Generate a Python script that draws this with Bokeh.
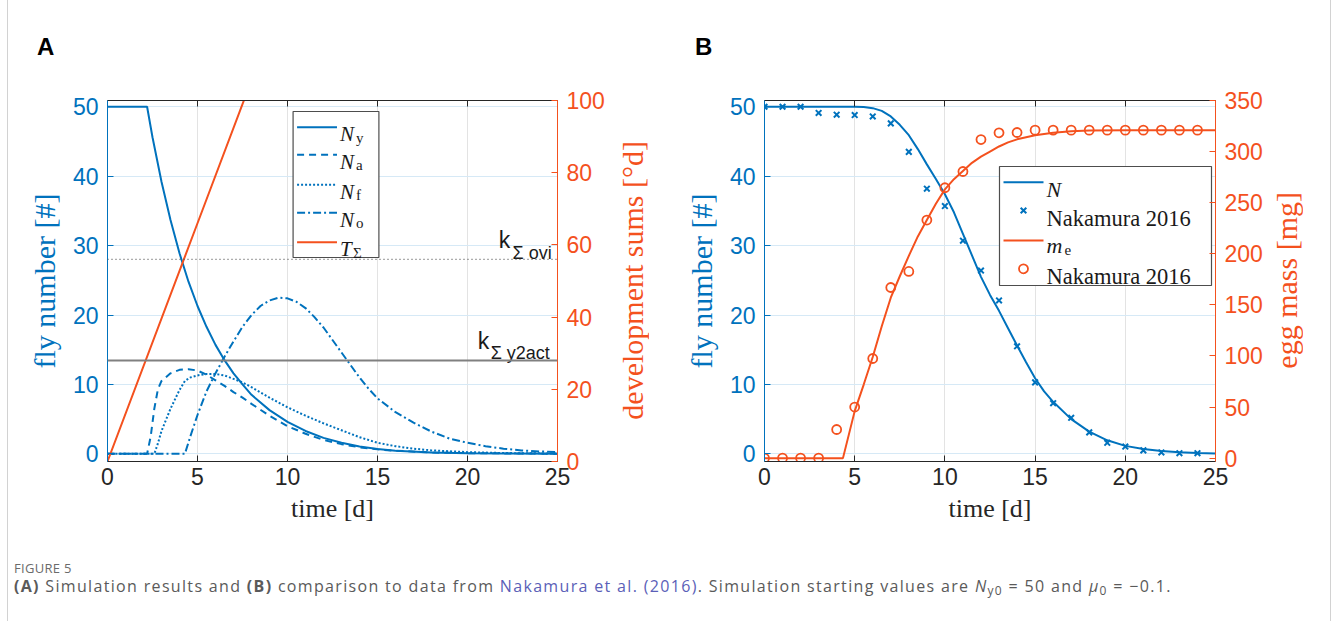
from bokeh.plotting import figure
from bokeh.models import Range1d, LinearAxis, Div, FixedTicker, Span
from bokeh.layouts import row, column
from bokeh.embed import file_html
from bokeh.resources import INLINE
from bokeh.core.properties import value

BLUE = "#0072BD"
ORANGE = "#F4511E"
DARK = "#262626"
GRID_X = "#e3e3e3"
GRID_Y = "#d6e9f6"
SANS = "Liberation Sans"
SERIF = "Liberation Serif"

# ---------------- Panel A: simulated classes ----------------
t_young = [0, 2.2, 2.5, 3, 3.5, 4, 4.5, 5, 5.5, 6, 6.5, 7, 7.5, 8, 9, 10, 11, 12, 13, 14, 15, 16, 18, 20, 22, 25]
n_young = [50, 50, 45.6, 39.2, 33.7, 28.9, 24.8, 21.3, 18.3, 15.7, 13.5, 11.6, 10.0, 8.5, 6.3, 4.6, 3.3, 2.3,
           1.6, 1.05, 0.7, 0.45, 0.2, 0.1, 0.05, 0.02]

t_adult = [0, 2.2, 2.4, 2.6, 2.8, 3.0, 3.5, 4.0, 4.5, 5.0, 5.5, 6, 6.5, 7, 7.5, 8, 9, 10, 11, 12, 13, 14, 15,
           16, 18, 20, 25]
n_adult = [0, 0, 2.5, 6.5, 9.3, 10.5, 11.6, 12.1, 12.2, 12.0, 11.4, 10.6, 9.8, 8.9, 8.1, 7.2, 5.5, 4.0, 2.9,
           2.0, 1.4, 0.95, 0.65, 0.45, 0.2, 0.1, 0.02]

t_fem = [0, 2.6, 2.8, 3.0, 3.5, 4.0, 4.3, 4.6, 5.0, 5.5, 6.0, 6.5, 7, 7.5, 8, 9, 10, 11, 12, 13, 14, 15, 16,
         17, 18, 20, 22, 25]
n_fem = [0, 0, 1.5, 3.3, 6.5, 9.2, 10.5, 11.0, 11.3, 11.5, 11.5, 11.3, 10.8, 10.3, 9.6, 8.1, 6.7, 5.5, 4.4,
         3.4, 2.4, 1.6, 1.1, 0.75, 0.5, 0.25, 0.12, 0.05]

t_ovi = [0, 4.3, 4.6, 5.0, 5.5, 6.0, 6.5, 7.0, 7.5, 8.0, 8.5, 9.0, 9.5, 10, 10.5, 11, 11.5, 12, 12.5, 13,
         13.5, 14, 14.5, 15, 16, 17, 18, 19, 20, 21, 22, 23, 24, 25]
n_ovi = [0, 0, 2.5, 5.6, 9.0, 11.6, 14.0, 16.2, 18.3, 20.0, 21.3, 22.1, 22.5, 22.4, 21.9, 21.0, 19.7, 18.2,
         16.4, 14.6, 12.8, 11.0, 9.4, 8.0, 6.0, 4.5, 3.2, 2.2, 1.6, 1.1, 0.75, 0.5, 0.35, 0.25]

t_dev = [0, 5, 10]
dev_sum = [0, 66, 132]

k_ovi = 56
k_y2act = 28

# ---------------- Panel B: model vs. Nakamura 2016 ----------------
t_days = list(range(25))
nak_flies = [50, 50, 50, 49.1, 48.85, 48.8, 48.6, 47.6, 43.5, 38.2, 35.7, 30.7, 26.4, 22.1, 15.5, 10.3, 7.3,
             5.2, 3.1, 1.6, 1.05, 0.5, 0.2, 0.1, 0.1]
nak_eggs = [0, 0, 0, 0, 28, 50, 97.5, 167, 182.7, 233, 264.6, 280.5, 311.8, 318.4, 318.7, 321, 321, 321, 321,
            321, 321, 321, 321, 321, 321]

t_model_n = [0, 5, 5.5, 6, 6.5, 7, 7.5, 8, 8.5, 9, 9.5, 10, 10.5, 11, 11.5, 12, 12.5, 13, 13.5, 14, 14.5, 15,
             15.5, 16, 17, 18, 19, 20, 21, 22, 23, 24, 25]
model_n = [50, 50, 49.95, 49.8, 49.4, 48.6, 47.4, 45.9, 43.9, 41.7, 39.6, 37.4, 34.8, 31.7, 28.6, 25.5, 22.9,
           20.6, 18.1, 15.6, 13.2, 10.9, 9.0, 7.5, 5.0, 3.2, 1.95, 1.15, 0.7, 0.4, 0.22, 0.12, 0.07]

t_model_e = [0, 4.35, 5, 5.5, 6, 6.5, 7, 7.5, 8, 8.5, 9, 9.5, 10, 10.5, 11, 11.5, 12, 12.5, 13, 13.5, 14, 15,
             16, 17, 18, 20, 25]
model_e = [0, 0, 46, 72, 99, 129, 157, 178, 198, 217, 233, 249, 263, 273, 281, 289, 295, 300, 305, 309, 312,
           316, 318.5, 320, 320.7, 321, 321]

LEFT_RANGE = (-1.1, 50.9)
A_RIGHT = (0, 100)
B_RIGHT = (-3.3, 350)
X_TICKS = [0, 5, 10, 15, 20, 25]
Y_TICKS = [0, 10, 20, 30, 40, 50]

HEADER_H = 70                        # strip holding the panel letters
FRAME_TOP, FRAME_BOTTOM = 100, 461   # page coordinates of the plot frames
FIG_H = 460


def style_axis(axis, color, label_color, size):
    axis.axis_label_text_font = SERIF
    axis.axis_label_text_font_style = "normal"
    axis.axis_label_text_font_size = size
    axis.axis_label_text_color = label_color
    axis.major_label_text_font = SANS
    axis.major_label_text_font_size = "23px"
    axis.major_label_text_color = color
    axis.axis_line_color = color
    axis.major_tick_line_color = color
    axis.major_tick_in = 6
    axis.major_tick_out = 0
    axis.minor_tick_line_color = None


def make_panel(width, border_left, border_right, right_range, right_ticks):
    p = figure(width=width, height=FIG_H, x_range=Range1d(0, 25), y_range=Range1d(*LEFT_RANGE),
               output_backend="svg", toolbar_location=None,
               min_border_left=border_left, min_border_right=border_right,
               min_border_top=FRAME_TOP - HEADER_H, min_border_bottom=HEADER_H + FIG_H - FRAME_BOTTOM,
               background_fill_color="white", border_fill_color="white")
    p.outline_line_color = None
    p.extra_y_ranges = {"r": Range1d(*right_range)}

    xa = p.xaxis[0]
    xa.ticker = FixedTicker(ticks=X_TICKS)
    xa.axis_label = "time [d]"
    style_axis(xa, DARK, DARK, "26px")
    xa.axis_label_standoff = 6
    xa.major_label_standoff = 6

    top = LinearAxis(ticker=FixedTicker(ticks=X_TICKS))
    style_axis(top, DARK, DARK, "26px")
    top.major_label_text_color = None
    top.major_label_standoff = 0
    p.add_layout(top, "above")

    ya = p.yaxis[0]
    ya.ticker = FixedTicker(ticks=Y_TICKS)
    ya.axis_label = "fly number [#]"
    style_axis(ya, BLUE, BLUE, "30px")
    ya.axis_label_standoff = 9
    ya.major_label_standoff = 9

    ra = LinearAxis(y_range_name="r", ticker=FixedTicker(ticks=right_ticks))
    style_axis(ra, ORANGE, ORANGE, "30px")
    ra.major_label_standoff = 9
    p.add_layout(ra, "right")

    p.xgrid.ticker = FixedTicker(ticks=X_TICKS)
    p.ygrid.ticker = FixedTicker(ticks=Y_TICKS)
    p.xgrid.grid_line_color = GRID_X
    p.ygrid.grid_line_color = GRID_Y
    return p


def right_label(text, width, left):
    # right-hand axis title, reading bottom-to-top like the left one
    return Div(
        width=width, height=FIG_H, margin=0,
        text=(
            f"<div style='position:relative; width:{width}px; height:{FIG_H}px;'>"
            f"<div style='position:absolute; left:{left}px; top:{FRAME_TOP - HEADER_H}px; width:30px;"
            f" height:{FRAME_BOTTOM - FRAME_TOP}px; display:flex; align-items:center; justify-content:center;'>"
            f"<span style=\"writing-mode:vertical-rl; transform:rotate(180deg); font-family:'Liberation Serif';"
            f" font-size:30px; line-height:30px; color:{ORANGE}; white-space:nowrap;\">{text}</span>"
            "</div></div>"
        ),
    )


# pixel helpers for placing legend items inside each frame
def px_to_x(px, left):
    return (px - left) / 451.0 * 25


def py_to_left(py):
    lo, hi = LEFT_RANGE
    return lo + (FRAME_BOTTOM - py) / (FRAME_BOTTOM - FRAME_TOP) * (hi - lo)


def py_to_right(py, rr):
    lo, hi = rr
    return lo + (FRAME_BOTTOM - py) / (FRAME_BOTTOM - FRAME_TOP) * (hi - lo)


# ================= Panel A =================
A_LEFT = 107
pA = make_panel(599, 99, 50, A_RIGHT, [0, 20, 40, 60, 80, 100])

pA.add_layout(Span(location=k_ovi, dimension="width", y_range_name="r", line_color="#5a5a5a",
                   line_dash="1 3", line_width=1.2))
pA.add_layout(Span(location=k_y2act, dimension="width", y_range_name="r", line_color="#808080",
                   line_width=2))

pA.line(t_young, n_young, color=BLUE, line_width=2)
pA.line(t_adult, n_adult, color=BLUE, line_width=2, line_dash="7 5")
pA.line(t_fem, n_fem, color=BLUE, line_width=2, line_dash="2 2")
pA.line(t_ovi, n_ovi, color=BLUE, line_width=2, line_dash="8 3 2 3")
pA.line(t_dev, dev_sum, color=ORANGE, line_width=2, y_range_name="r")

# threshold labels
ax = lambda px: px_to_x(px, A_LEFT)
pA.text(x=[ax(499), ax(478)], y=[py_to_right(239, A_RIGHT), py_to_right(340, A_RIGHT)], text=["k", "k"],
        y_range_name="r", text_font=value(SANS), text_font_size="23px", text_color="#1a1a1a",
        text_baseline="alphabetic", text_align="left")
pA.text(x=[ax(513), ax(491)], y=[py_to_right(252, A_RIGHT), py_to_right(352.5, A_RIGHT)],
        text=["Σ ovi", "Σ y2act"], y_range_name="r", text_font=value(SANS), text_font_size="18px",
        text_color="#1a1a1a", text_baseline="alphabetic", text_align="left")

# legend A
pA.quad(left=[ax(293)], right=[ax(379)], top=[py_to_left(111)], bottom=[py_to_left(257)],
        fill_color="white", line_color="#4d4d4d", line_width=1.2)
rows_a = [126.7, 154.3, 184.3, 212.3, 241.7]
dashes = ["solid", "7 5", "2 2", "8 3 2 3"]
for yy, d in zip(rows_a[:4], dashes):
    pA.line([ax(297), ax(337)], [py_to_left(yy)] * 2, color=BLUE, line_width=2, line_dash=d)
pA.line([ax(297), ax(337)], [py_to_left(rows_a[4])] * 2, color=ORANGE, line_width=2)
pA.text(x=[ax(340)] * 5, y=[py_to_left(yy + 6.8) for yy in rows_a], text=["N", "N", "N", "N", "T"],
        text_font=value(SERIF), text_font_style="italic", text_font_size="21px", text_color="#1a1a1a",
        text_baseline="alphabetic")
sub_x = [356, 356, 356, 356, 353]
pA.text(x=[ax(s) for s in sub_x], y=[py_to_left(yy + 10.5) for yy in rows_a],
        text=["y", "a", "f", "o", "Σ"], text_font=value(SERIF), text_font_size="15px",
        text_color="#1a1a1a", text_baseline="alphabetic")

# ================= Panel B =================
B_LEFT = 764
pB = make_panel(610, 109, 50, B_RIGHT, [0, 50, 100, 150, 200, 250, 300, 350])

pB.line(t_model_n, model_n, color=BLUE, line_width=2)
pB.scatter(t_days, nak_flies, marker="x", size=8, line_width=2, color=BLUE)
pB.line(t_model_e, model_e, color=ORANGE, line_width=2, y_range_name="r")
pB.scatter(t_days, nak_eggs, marker="circle", size=9, line_width=1.8, line_color=ORANGE, fill_color=None,
           y_range_name="r")

bx = lambda px: px_to_x(px, B_LEFT)
pB.quad(left=[bx(999)], right=[bx(1211)], top=[py_to_left(166)], bottom=[py_to_left(285)],
        fill_color="white", line_color="#4d4d4d", line_width=1.2)
rows_b = [181.7, 210, 240, 268.3]
pB.line([bx(1003), bx(1043)], [py_to_left(rows_b[0])] * 2, color=BLUE, line_width=2)
pB.scatter([bx(1023)], [py_to_left(rows_b[1])], marker="x", size=8, line_width=2, color=BLUE)
pB.line([bx(1003), bx(1043)], [py_to_left(rows_b[2])] * 2, color=ORANGE, line_width=2)
pB.scatter([bx(1023)], [py_to_left(rows_b[3])], marker="circle", size=9, line_width=1.8,
           line_color=ORANGE, fill_color=None)
pB.text(x=[bx(1046), bx(1046)], y=[py_to_left(rows_b[0] + 6.8), py_to_left(rows_b[2] + 5)], text=["N", "m"],
        text_font=value(SERIF), text_font_style="italic", text_font_size="22px", text_color="#1a1a1a",
        text_baseline="alphabetic")
pB.text(x=[bx(1064)], y=[py_to_left(rows_b[2] + 9.5)], text=["e"], text_font=value(SERIF),
        text_font_size="15px", text_color="#1a1a1a", text_baseline="alphabetic")
pB.text(x=[bx(1046), bx(1046)], y=[py_to_left(rows_b[1] + 8), py_to_left(rows_b[3] + 7.5)],
        text=["Nakamura 2016", "Nakamura 2016"], text_font=value(SERIF), text_font_size="22.5px",
        text_color="#1a1a1a", text_baseline="alphabetic")

# ================= page furniture =================
header = Div(
    width=1321, height=HEADER_H, margin=0,
    text=(
        "<div style=\"font-family:'Liberation Sans'; font-weight:bold; font-size:24px; line-height:24px;"
        " color:black; padding-top:35px; padding-left:29px; white-space:nowrap;\">"
        "<span style='display:inline-block; width:658px;'>A</span><span>B</span></div>"
    ),
)

caption = Div(
    width=1321, height=621 - HEADER_H - FIG_H, margin=0,
    text=(
        "<div style=\"font-family:'Open Sans'; padding-left:6px; padding-top:31px; white-space:nowrap;\">"
        "<div style='font-size:13px; line-height:15px; height:15px; color:#6b6b6b; letter-spacing:0.3px;'>"
        "FIGURE 5</div>"
        "<div style='font-size:16px; line-height:18px; height:18px; margin-top:1px; color:#5a5a5a;"
        " letter-spacing:1.33px;'>"
        "<b>(A)</b> Simulation results and <b>(B)</b> comparison to data from "
        "<span style='color:#5b5fb8;'>Nakamura et al. (2016)</span>. Simulation starting values are "
        "<i>N</i><span style='font-size:12px; vertical-align:-3px; line-height:0;'>y0</span> = 50 and "
        "<i>μ</i><span style='font-size:12px; vertical-align:-3px; line-height:0;'>0</span>"
        " = −0.1.</div></div>"
    ),
)

left_bar = Div(text="", width=8, height=621, margin=0,
               styles={"background": "linear-gradient(to right, white 7px, #d2d2d2 7px, #d2d2d2 8px)"})
right_bar = Div(text="", width=2, height=621, margin=0,
                styles={"background": "linear-gradient(to right, white 1px, #d2d2d2 1px, #d2d2d2 2px)"})

panels = row(pA, right_label("development sums [°d]", 48, 11), pB, right_label("egg mass [mg]", 64, 7))
layout = row(left_bar, column(header, panels, caption), right_bar)

open("out.html", "w").write(file_html(layout, INLINE))
